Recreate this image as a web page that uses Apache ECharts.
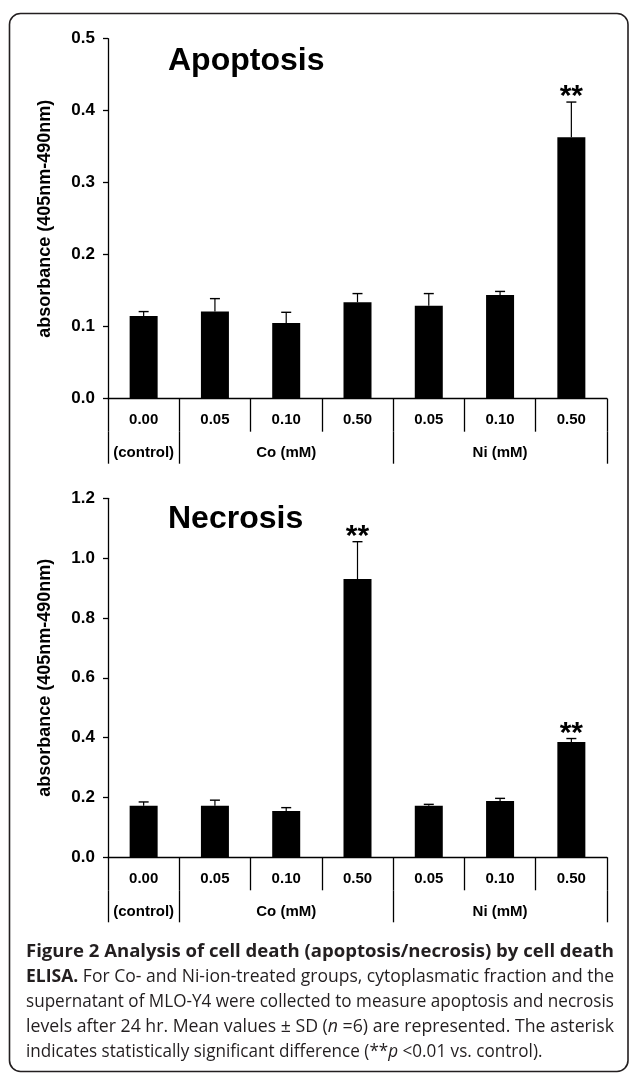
<!DOCTYPE html>
<html><head><meta charset="utf-8">
<script src="https://cdn.jsdelivr.net/npm/echarts@6/dist/echarts.min.js"></script>
<style>html,body{margin:0;padding:0;background:#fff}#c{width:629px;height:1074px}</style>
</head><body><div id="c"></div>
<script>
// ---------- data ----------
const categories = ['0.00', '0.05', '0.10', '0.50', '0.05', '0.10', '0.50'];
const groupLabels = ['(control)', 'Co (mM)', 'Ni (mM)'];
const groupSizes = [1, 3, 3];

const apoptosisMean = [0.115, 0.121, 0.105, 0.134, 0.129, 0.144, 0.363];
const apoptosisSD   = [0.006, 0.018, 0.015, 0.012, 0.017, 0.005, 0.049];
const apoptosisSig  = ['', '', '', '', '', '', '**'];
const apoptosisAxis = { min: 0, max: 0.5, interval: 0.1 };

const necrosisMean = [0.172, 0.172, 0.155, 0.930, 0.172, 0.188, 0.385];
const necrosisSD   = [0.013, 0.019, 0.011, 0.125, 0.005, 0.009, 0.012];
const necrosisSig  = ['', '', '', '**', '', '', '**'];
const necrosisAxis = { min: 0, max: 1.2, interval: 0.2 };

const yName = 'absorbance (405nm-490nm)';
const panelTitles = ['Apoptosis', 'Necrosis'];

const captionLines = [
  [['b', 'Figure 2 Analysis of cell death (apoptosis/necrosis) by cell death']],
  [['b', 'ELISA.'], ['r', ' For Co- and Ni-ion-treated groups, cytoplasmatic fraction and the']],
  [['r', 'supernatant of MLO-Y4 were collected to measure apoptosis and necrosis']],
  [['r', 'levels after 24 hr. Mean values \u00b1 SD ('], ['i', 'n'], ['r', ' =6) are represented. The asterisk']],
  [['r', 'indicates statistically significant difference (**'], ['i', 'p'], ['r', ' <0.01 vs. control).']]
];

// ---------- layout helpers ----------
const FF = '"Liberation Sans", Arial, Helvetica, sans-serif';
const CF = '"Open Sans", "Noto Sans", sans-serif';
const bounds = [0];
groupSizes.forEach(s => bounds.push(bounds[bounds.length - 1] + s));
const centers = groupSizes.map((s, i) => bounds[i] + s / 2);

const blk = { color: '#000', width: 1.3 };

function xAxes(g) {
  return [
    {
      type: 'category', gridIndex: g, data: categories,
      axisLine: { lineStyle: blk },
      axisTick: { show: true, length: 33, lineStyle: blk },
      axisLabel: { color: '#000', fontWeight: 'bold', fontSize: 15, fontFamily: FF, margin: 14 },
      splitLine: { show: false }
    },
    {
      type: 'value', gridIndex: g, min: 0, max: categories.length, position: 'bottom', offset: 33,
      axisLine: { show: false },
      axisTick: { show: true, customValues: bounds, length: 32, lineStyle: blk },
      axisLabel: {
        customValues: centers, color: '#000', fontWeight: 'bold', fontSize: 15, fontFamily: FF, margin: 14,
        formatter: v => { const k = centers.indexOf(v); return k >= 0 ? groupLabels[k] : ''; }
      },
      splitLine: { show: false }
    }
  ];
}
function yAxis(g, ax) {
  return {
    type: 'value', gridIndex: g, min: ax.min, max: ax.max, interval: ax.interval,
    name: yName, nameLocation: 'middle', nameGap: 54,
    nameTextStyle: { color: '#000', fontWeight: 'bold', fontSize: 18, fontFamily: FF },
    axisLine: { show: true, lineStyle: blk },
    axisTick: { show: true, length: 5, lineStyle: blk },
    axisLabel: { color: '#000', fontWeight: 'bold', fontSize: 17, fontFamily: FF, margin: 13, formatter: v => v.toFixed(1) },
    splitLine: { show: false }
  };
}
function series(g, mean, sd, sig) {
  return [
    {
      type: 'bar', xAxisIndex: g * 2, yAxisIndex: g, data: mean, barWidth: 28,
      itemStyle: { color: '#000' }, silent: true
    },
    {
      type: 'custom', xAxisIndex: g * 2, yAxisIndex: g, z: 10, silent: true,
      data: mean.map((m, i) => [i, m, sd[i]]),
      renderItem: (params, api) => {
        const i = api.value(0), m = api.value(1), s = api.value(2);
        const p0 = api.coord([i, m]);
        const p1 = api.coord([i, m + s]);
        const ch = [
          { type: 'line', shape: { x1: p0[0], y1: p0[1], x2: p0[0], y2: p1[1] }, style: { stroke: '#000', lineWidth: 1.2 } },
          { type: 'line', shape: { x1: p0[0] - 5, y1: p1[1], x2: p0[0] + 5, y2: p1[1] }, style: { stroke: '#000', lineWidth: 1.4 } }
        ];
        const t = sig[params.dataIndex];
        if (t) ch.push({
          type: 'text', x: p0[0], y: p1[1] - 5,
          style: { text: t, font: 'bold 30px ' + FF, fill: '#000', align: 'center', verticalAlign: 'middle' }
        });
        return { type: 'group', children: ch };
      }
    }
  ];
}

// ---------- caption ----------
const ctx = document.createElement('canvas').getContext('2d');
const CS = 18;
function segFont(k) {
  return (k === 'i' ? 'italic ' : '') + (k === 'b' ? 'bold ' : '') + CS + 'px ' + CF;
}
function lineWidth(line) {
  let w = 0;
  line.forEach(([k, t]) => { ctx.font = segFont(k); w += ctx.measureText(t).width; });
  return w;
}
const capLeft = 26, capRight = 614;
const capY = [952, 977, 1002, 1027, 1052];
const scales = captionLines.map(l => (capRight - capLeft) / lineWidth(l));
const lastScale = Math.min(...scales.slice(0, 4));
const captionGraphics = captionLines.map((line, li) => {
  const txt = line.map(([k, t]) => '{' + k + '|' + t + '}').join('');
  return {
    type: 'text', x: capLeft, y: capY[li],
    scaleX: li === captionLines.length - 1 ? lastScale : scales[li],
    style: {
      text: txt, fill: '#231f20', verticalAlign: 'middle', font: CS + 'px ' + CF,
      rich: {
        r: { fontSize: CS, fontFamily: CF, fill: '#231f20', color: '#231f20' },
        b: { fontSize: CS, fontFamily: CF, fontWeight: 'bold', fill: '#231f20', color: '#231f20' },
        i: { fontSize: CS, fontFamily: CF, fontStyle: 'italic', fill: '#231f20', color: '#231f20' }
      }
    }
  };
});

const chart = echarts.init(document.getElementById('c'), null, { renderer: 'canvas' });
chart.setOption({
  animation: false,
  backgroundColor: '#fff',
  grid: [
    { left: 108, right: 22, top: 38.7, height: 360 },
    { left: 108, right: 22, top: 498.3, height: 359 }
  ],
  xAxis: [...xAxes(0), ...xAxes(1)],
  yAxis: [yAxis(0, apoptosisAxis), yAxis(1, necrosisAxis)],
  series: [
    ...series(0, apoptosisMean, apoptosisSD, apoptosisSig),
    ...series(1, necrosisMean, necrosisSD, necrosisSig)
  ],
  graphic: [
    { type: 'rect', shape: { x: 9.5, y: 13.5, width: 618.5, height: 1058, r: 11 }, style: { fill: 'none', stroke: '#231f20', lineWidth: 1.6 }, z: 100 },
    { type: 'text', x: 168, y: 61, style: { text: panelTitles[0], font: 'bold 32px ' + FF, fill: '#000', verticalAlign: 'middle' } },
    { type: 'text', x: 168, y: 519, style: { text: panelTitles[1], font: 'bold 32px ' + FF, fill: '#000', verticalAlign: 'middle' } },
    ...captionGraphics
  ]
});
</script>
</body></html>
